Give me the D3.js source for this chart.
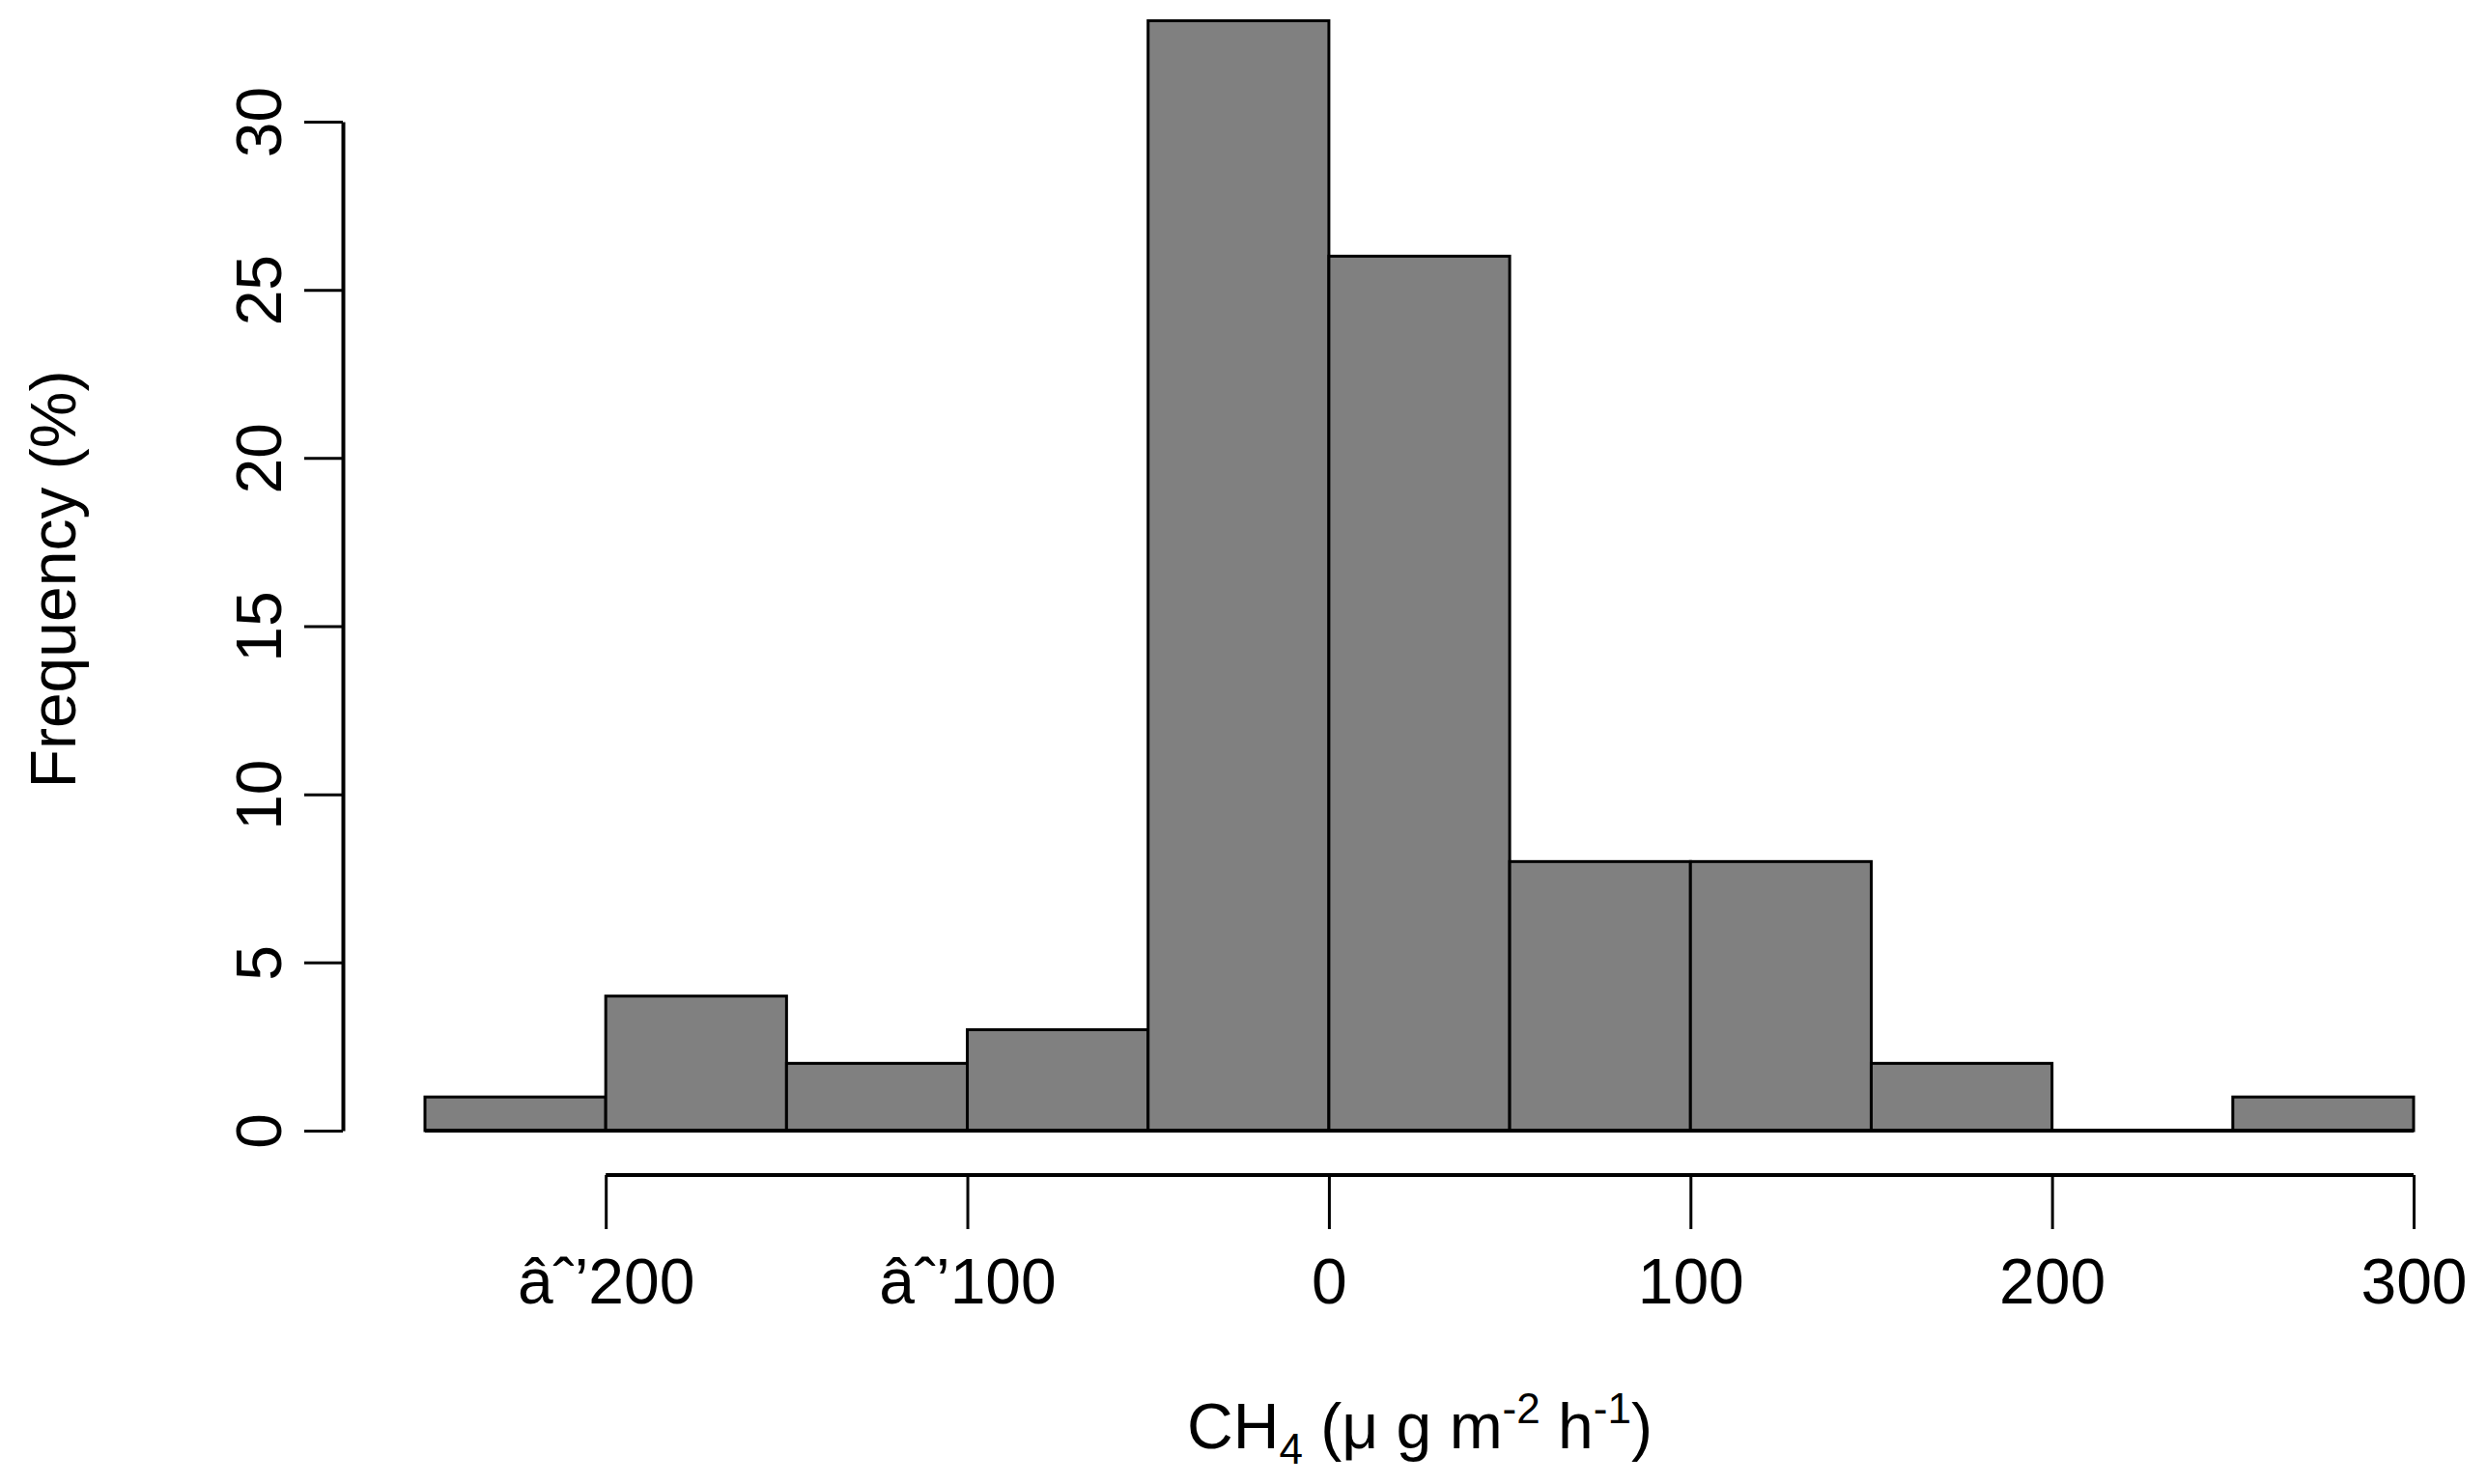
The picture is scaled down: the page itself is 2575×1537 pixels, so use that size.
<html>
<head>
<script src="https://cdn.jsdelivr.net/npm/d3@7"></script>
<style>body{margin:0;background:#fff} text{font-family:"Liberation Sans",Arial,sans-serif;fill:#000}</style>
</head>
<body>
<svg id="chart" width="2575" height="1537"></svg>
<script>
// histogram bins (left edges, width 50) and percent frequencies
const binStarts = [-250, -200, -150, -100, -50, 0, 50, 100, 150, 200, 250];
const freqs = [1, 4, 2, 3, 33, 26, 8, 8, 2, 0, 1];
const xTicks = [-200, -100, 0, 100, 200, 300];
const yTicks = [0, 5, 10, 15, 20, 25, 30];

const svg = d3.select('#chart');
const x = d3.scaleLinear().domain([-250, 300]).range([440, 2499]);
const y = d3.scaleLinear().domain([0, 30]).range([1171, 126]);

svg.selectAll('rect.bar').data(binStarts).join('rect')
    .attr('class', 'bar')
    .attr('x', d => x(d)).attr('width', d => x(d + 50) - x(d))
    .attr('y', (d, i) => y(freqs[i])).attr('height', (d, i) => y(0) - y(freqs[i]))
    .attr('fill', '#808080').attr('stroke', '#000').attr('stroke-width', 3);

// x axis, offset below
const xa = svg.append('g').attr('transform', 'translate(0,1217)')
    .call(d3.axisBottom(x).tickValues(xTicks).tickSize(56).tickPadding(18).tickSizeOuter(0));
xa.select('.domain').attr('d', `M${x(-200)},0H${x(300)}`).attr('stroke-width', 4);
xa.selectAll('.tick line').attr('stroke-width', 3);
xa.selectAll('.tick text').attr('font-size', 66).attr('dy', '0.9em');

// y axis
const ya = svg.append('g').attr('transform', 'translate(355,0)')
    .call(d3.axisLeft(y).tickValues(yTicks).tickSize(40).tickPadding(14).tickSizeOuter(0));
ya.select('.domain').attr('stroke-width', 4);
ya.selectAll('.tick line').attr('stroke-width', 3);
ya.selectAll('.tick text').attr('font-size', 66)
    .attr('text-anchor', 'middle').attr('dy', 0)
    .attr('transform', d => `translate(${-(40 + 14 + 10)},0) rotate(-90)`).attr('x', 0);

// baseline under bars
svg.append('line').attr('x1', x(-250)).attr('x2', x(300)).attr('y1', y(0)).attr('y2', y(0))
    .attr('stroke', '#000').attr('stroke-width', 4);

svg.append('text').attr('transform', 'translate(78,600) rotate(-90)')
    .attr('text-anchor', 'middle').attr('font-size', 66).text('Frequency (%)');

const xt = svg.append('text').attr('x', 1470).attr('y', 1500)
    .attr('text-anchor', 'middle').attr('font-size', 66);
xt.append('tspan').text('CH');
xt.append('tspan').attr('font-size', 44).attr('dy', 16).text('4');
xt.append('tspan').attr('dy', -16).text(' (\u03bc g m');
xt.append('tspan').attr('font-size', 44).attr('dy', -26).text('-2');
xt.append('tspan').attr('dy', 26).text(' h');
xt.append('tspan').attr('font-size', 44).attr('dy', -26).text('-1');
xt.append('tspan').attr('dy', 26).text(')');
</script>
</body>
</html>
